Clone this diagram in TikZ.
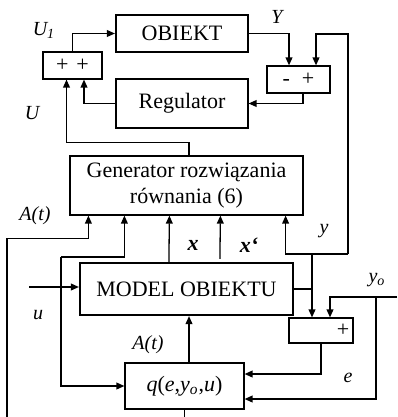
\documentclass[tikz,border=0pt]{standalone}
\usepackage{fontspec}
\setmainfont{Liberation Serif}
\usepackage{tikz}
\usetikzlibrary{arrows.meta,calc}
\tikzset{
  >={Triangle[length=4pt,width=3.4pt]},
  box/.style={draw,line width=0.6pt,inner sep=1pt,align=center,fill=white},
  tbox/.style={box,line width=1.1pt},
  lab/.style={font=\itshape,inner sep=0pt},
  arr/.style={->,line width=0.65pt},
  ln/.style={line width=0.65pt},
}

\begin{document}
\begin{tikzpicture}[x=0.5pt,y=-0.5pt,every node/.style={font=\fontsize{11}{13}\selectfont}]
\useasboundingbox (0,0) rectangle (397,417);
\node[tbox,minimum width=66pt,minimum height=18.5pt] (obj) at (182,33.5) {OBIEKT};
\node[box,minimum width=29.5pt,minimum height=13.5pt] (sumU) at (72.5,65.5) {\raisebox{-2.5pt}{+\hspace{4pt}+}};
\node[box,minimum width=66pt,minimum height=24.5pt] (reg) at (182,103.5) {Regulator};
\node[box,minimum width=31.5pt,minimum height=13.5pt] (cmpY) at (298.5,79.5) {\raisebox{-2.5pt}{-\hspace{6pt}+}};
\node[box,minimum width=116.5pt,minimum height=29.5pt] (gen) at (186.5,185.5) {Generator rozwiązania\\równania (6)};
\node[tbox,minimum width=106.5pt,minimum height=26pt] (model) at (186.5,289) {MODEL OBIEKTU};
\node[box,minimum width=32pt,minimum height=12.5pt] (cmpe) at (321,330.5) {\hspace{22pt}\raisebox{-2.5pt}{+}};
\node[box,minimum width=59.5pt,minimum height=23pt] (q) at (184.5,386) {\textit{q}(\textit{e},\textit{y\textsubscript{o}},\textit{u})};

\coordinate (yr) at (348,254);
\coordinate (jy) at (312,254);
\coordinate (at0) at (7,417);
\coordinate (ub) at (61,257);
\coordinate (uin) at (29,287);
\coordinate (yo) at (397,297);
\coordinate (jyo) at (376,297);

\draw[arr] (sumU.north) |- (obj.west);
\draw[arr] (obj.east) -| ($(cmpY.north)+(-9.5,0)$);
\draw[arr] (yr) -- (348,34) -| ($(cmpY.north)+(17.5,0)$);
\draw[arr] ($(cmpY.south)+(4.5,0)$) |- (reg.east);
\draw[arr] (reg.west) -| ($(sumU.south)+(11.5,0)$);
\draw[arr] ($(gen.north)+(2.5,0)$) -- ++(0,-13) -| ($(sumU.south)+(-6,0)$);

\draw[arr] (yr) -| ($(gen.south east)+(-18,0)$);
\draw[arr] (jy) -- (jy |- cmpe.north);
\draw[ln] (model.east) -- (model.east -| jy);

\draw[arr] (at0) |- ($(gen.south west)+(19,23)$) -- ($(gen.south west)+(19,0)$);
\draw[arr] (ub) -| ($(gen.south west)+(55,0)$);
\draw[arr] (ub) |- (q.west);
\draw[arr] (uin) -- (uin -| model.west);
\draw[arr] ($(model.north west)+(90,0)$) -- ($(gen.south west)+(100,0)$);
\draw[arr] ($(model.north west)+(141,-3)$) -- ($(gen.south west)+(151,0)$);

\draw[arr] ($(q.north)+(4.5,0)$) -- ($(model.south)+(2.5,0)$);
\draw[ln] (q.south) -- (q.south |- at0);
\draw[arr] (yo) -| ($(cmpe.north)+(9,0)$);
\draw[arr] (jyo) |- ($(q.east)+(0,13)$);
\draw[arr] (cmpe.south) |- ($(q.east)+(0,-12)$);

\node[lab] (lU1) at (44,30) {U\textsubscript{1}};
\node[lab] (lY) at (277,17) {Y};
\node[lab] (lU) at (32,113) {U};
\node[lab] (lA1) at (35,216) {A(t)};
\node[lab,font=\fontsize{11}{13}\selectfont\bfseries\itshape] (lx) at (193,245) {x};
\node[lab,font=\fontsize{11}{13}\selectfont\bfseries\itshape] (lxd) at (249,245) {x‘};
\node[lab] (ly) at (324,231) {y};
\node[lab] (lyo) at (377,280) {y\textsubscript{o}};
\node[lab] (lu) at (38,315) {u};
\node[lab] (lA2) at (148,345) {A(t)};
\node[lab] (le) at (348,378) {e};
\end{tikzpicture}
\end{document}
